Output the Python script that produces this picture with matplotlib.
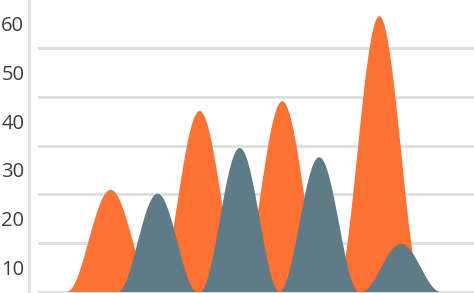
import numpy as np
import matplotlib
matplotlib.use("Agg")
import matplotlib.pyplot as plt

# ---- data ----
y_ticks = [10, 20, 30, 40, 50, 60]
grid_levels = [5, 15, 25, 35, 45, 55]
baseline = 5
orange_pos = [1.80, 4.02, 6.08, 8.50]
orange_vals = [26.0, 42.2, 44.2, 61.7]
gray_pos = [2.97, 5.02, 7.00, 9.04]
gray_vals = [25.2, 34.6, 32.7, 14.9]
orange_halfwidth = 1.1
gray_halfwidth = 1.0

ORANGE = "#FE7333"
GRAY = "#5F7B88"
GRID = "#DEDEDE"

plt.rcParams['font.family'] = ['Open Sans', 'DejaVu Sans']

W, H = 474, 293
fig = plt.figure(figsize=(W / 100, H / 100), dpi=100)
left_px = 38
ax = fig.add_axes([left_px / W, 0, 1 - left_px / W, 1])

px_per_unit = 4.865
ax.set_ylim(baseline - 1.5 / px_per_unit, baseline + 291.5 / px_per_unit)
ax.set_xlim(0, (W - left_px) / 40.1)


def bell(x, c, w, v):
    u = np.clip((x - c) / w, -1, 1)
    return baseline + (v - baseline) * (1 + np.cos(np.pi * u)) / 2


for g in grid_levels:
    ax.axhline(g, color=GRID, lw=2.0, zorder=0)

for c, v in zip(orange_pos, orange_vals):
    x = np.linspace(c - orange_halfwidth, c + orange_halfwidth, 300)
    ax.fill_between(x, baseline, bell(x, c, orange_halfwidth, v), color=ORANGE, lw=0, zorder=2)

for c, v in zip(gray_pos, gray_vals):
    x = np.linspace(c - gray_halfwidth, c + gray_halfwidth, 300)
    ax.fill_between(x, baseline, bell(x, c, gray_halfwidth, v), color=GRAY, lw=0, zorder=3)

for s in ['top', 'right', 'bottom']:
    ax.spines[s].set_visible(False)
ax.spines['left'].set_position(('outward', 9 * 0.72))
ax.spines['left'].set_color(GRID)
ax.spines['left'].set_linewidth(2.0)

ax.set_xticks([])
ax.set_yticks(y_ticks)
ax.set_yticklabels([str(t) for t in y_ticks])
ax.tick_params(axis='y', length=0, pad=3.4, labelsize=14.5, labelcolor='#3d3d3d')
ax.patch.set_alpha(0)

fig.savefig("out.png", dpi=100)
